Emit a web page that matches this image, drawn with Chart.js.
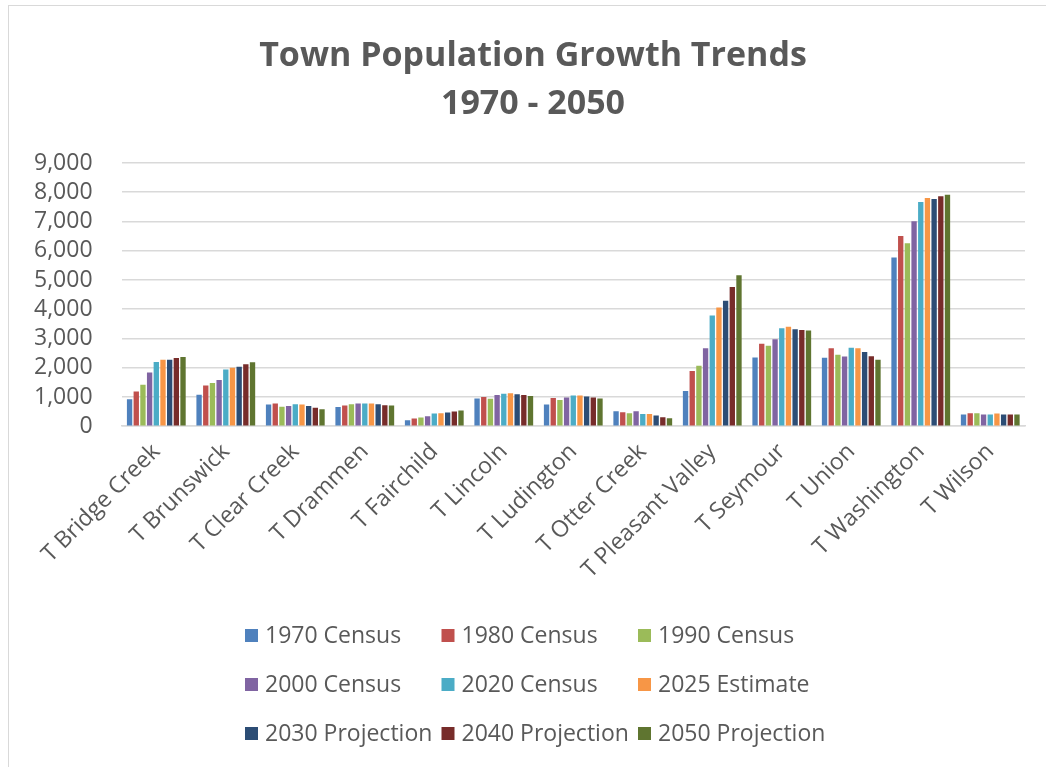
<!DOCTYPE html>
<html>
<head>
<meta charset="utf-8">
<script src="https://cdn.jsdelivr.net/npm/chart.js@4/dist/chart.umd.min.js"></script>
<style>
  html, body { margin: 0; padding: 0; background: #fff; overflow: hidden; }
  #frame { position: absolute; left: 8px; top: 5px; width: 1100px; height: 800px; border: 1px solid #d9d9d9; }
  #chart { position: absolute; left: 0; top: 0; }
</style>
</head>
<body>
<div id="frame"></div>
<canvas id="chart" width="1046" height="767"></canvas>
<script>
const titleLines = ["Town Population Growth Trends", "1970 - 2050"];

const towns = ["T Bridge Creek", "T Brunswick", "T Clear Creek", "T Drammen", "T Fairchild", "T Lincoln",
    "T Ludington", "T Otter Creek", "T Pleasant Valley", "T Seymour", "T Union", "T Washington", "T Wilson"];

const census1970 = [920, 1080, 745, 655, 205, 950, 745, 515, 1205, 2350, 2340, 5770, 400];
const census1980 = [1190, 1390, 780, 710, 265, 1000, 965, 480, 1890, 2820, 2670, 6500, 445];
const census1990 = [1420, 1480, 665, 755, 300, 940, 895, 445, 2065, 2750, 2445, 6260, 445];
const census2000 = [1840, 1580, 690, 780, 345, 1065, 985, 515, 2670, 2970, 2385, 7005, 400];
const census2020 = [2200, 1940, 755, 780, 435, 1110, 1055, 415, 3785, 3350, 2685, 7670, 400];
const estimate2025 = [2270, 2000, 745, 780, 445, 1125, 1055, 415, 4060, 3405, 2670, 7800, 435];
const projection2030 = [2270, 2030, 690, 755, 470, 1090, 1020, 365, 4290, 3315, 2535, 7765, 400];
const projection2040 = [2330, 2120, 630, 720, 505, 1065, 985, 310, 4760, 3290, 2395, 7865, 400];
const projection2050 = [2370, 2190, 585, 710, 540, 1030, 950, 275, 5160, 3270, 2270, 7915, 400];

const seriesNames = ["1970 Census", "1980 Census", "1990 Census", "2000 Census", "2020 Census",
    "2025 Estimate", "2030 Projection", "2040 Projection", "2050 Projection"];
const seriesData = [census1970, census1980, census1990, census2000, census2020,
    estimate2025, projection2030, projection2040, projection2050];
const seriesColors = ["#4F81BD", "#C0504D", "#9BBB59", "#8064A2", "#4BACC6",
    "#F79646", "#2C4D75", "#772C2A", "#5F7530"];

const textColor = "#595959";
const fontFamily = "'Open Sans', sans-serif";

// title drawn by hand so it can sit centred on the whole frame
const frameTitle = {
    id: "frameTitle",
    afterDraw(chart) {
        const ctx = chart.ctx;
        ctx.save();
        ctx.font = "bold 34px " + fontFamily;
        ctx.fillStyle = textColor;
        ctx.textAlign = "center";
        ctx.textBaseline = "middle";
        titleLines.forEach((line, i) => {
            ctx.fillText(line, chart.width / 2 + 10, 56 + i * 48);
        });
        ctx.restore();
    }
};

// legend drawn as a 3x3 grid like the original
const gridLegend = {
    id: "gridLegend",
    afterDraw(chart) {
        const ctx = chart.ctx;
        const sets = chart.data.datasets;
        const colPitch = 196.5;
        const rowPitch = 49;
        const x0 = chart.width / 2 - 278;
        const y0 = chart.height - 132;
        ctx.save();
        ctx.font = "23px " + fontFamily;
        ctx.textBaseline = "middle";
        sets.forEach((ds, i) => {
            const x = x0 + (i % 3) * colPitch;
            const y = y0 + Math.floor(i / 3) * rowPitch;
            ctx.fillStyle = ds.backgroundColor;
            ctx.fillRect(x, y - 6, 13, 13);
            ctx.fillStyle = textColor;
            ctx.fillText(ds.label, x + 20, y + 1);
        });
        ctx.restore();
    }
};

new Chart(document.getElementById("chart"), {
    type: "bar",
    data: {
        labels: towns,
        datasets: seriesNames.map((name, i) => ({
            label: name,
            data: seriesData[i],
            backgroundColor: seriesColors[i],
            categoryPercentage: 0.865,
            barPercentage: 0.8
        }))
    },
    options: {
        responsive: false,
        animation: false,
        devicePixelRatio: 1,
        layout: { padding: { left: 5, right: 21, top: 163, bottom: 179 } },
        plugins: {
            legend: { display: false },
            tooltip: { enabled: false },
            title: { display: false }
        },
        scales: {
            x: {
                grid: { display: false },
                border: { display: true, color: "#d9d9d9", width: 1.5 },
                ticks: {
                    color: textColor,
                    font: { family: fontFamily, size: 23 },
                    minRotation: 45,
                    maxRotation: 45,
                    autoSkip: false,
                    padding: 4
                }
            },
            y: {
                min: 0,
                max: 9000,
                border: { display: false },
                grid: { color: "#d9d9d9", lineWidth: 1.5, drawTicks: false },
                ticks: {
                    stepSize: 1000,
                    autoSkip: false,
                    color: textColor,
                    font: { family: fontFamily, size: 23 },
                    padding: 29
                }
            }
        }
    },
    plugins: [frameTitle, gridLegend]
});
</script>
</body>
</html>
